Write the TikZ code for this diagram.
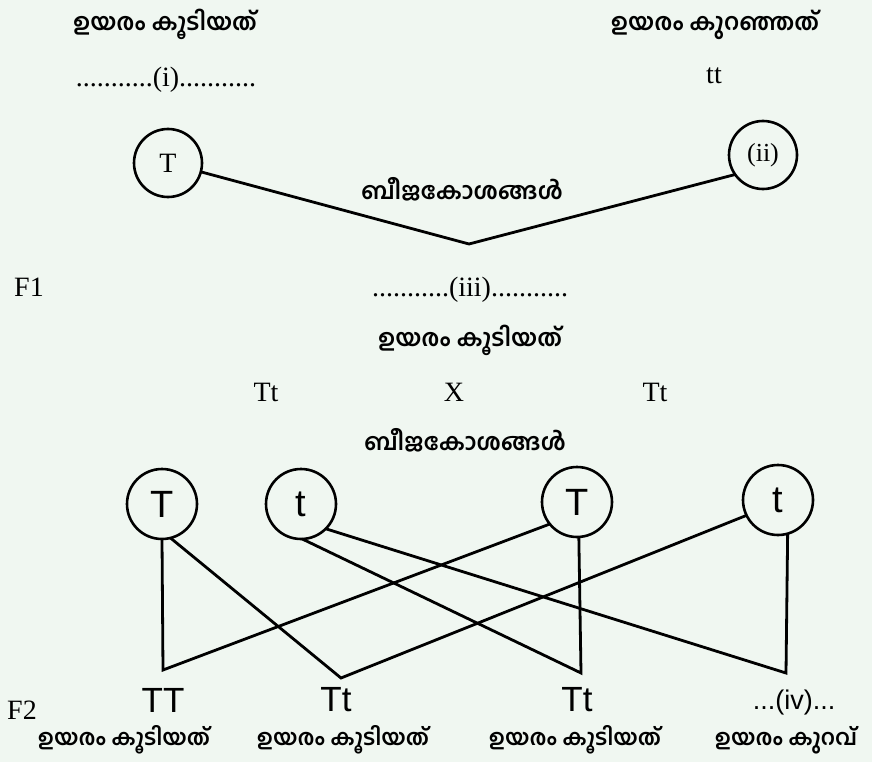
\documentclass[tikz,border=0pt]{standalone}
\usepackage{fontspec}
\setmainfont{Liberation Serif}
\newfontfamily\arial{Liberation Sans}
\newfontfamily\mal[Script=Malayalam]{Hind Kochi}
\definecolor{paper}{RGB}{240,247,241}
\begin{document}
\begin{tikzpicture}[x=1pt,y=-1pt,
  every node/.style={inner sep=0pt,outer sep=0pt},
  ml/.style={font=\mal\bfseries\fontsize{23.5}{26}\selectfont},
  mlb/.style={font=\mal\bfseries\fontsize{22}{24}\selectfont},
  rm/.style={font=\fontsize{28}{30}\selectfont},
  sans/.style={font=\arial\fontsize{35}{38}\selectfont},
  gamete/.style={draw,line width=2.6pt,circle,minimum size=68pt},
  bigamete/.style={draw,line width=2.6pt,circle,minimum size=70pt,font=\arial\fontsize{38}{40}\selectfont},
  link/.style={line width=2.8pt,line join=miter}]
\fill[paper] (0,0) rectangle (872,762);
\useasboundingbox (0,0) rectangle (872,762);

% parent generation
\node[ml] (tall1) at (165,24) {ഉയരം കൂടിയത്};
\node[ml] (short1) at (715,25) {ഉയരം കുറഞ്ഞത്};
\node[rm] (gi) at (166,80) {...........(i)...........};
\node[rm] (gtt) at (714,76) {tt};
\node[gamete,rm] (gT) at (168,163) {T};
\node[gamete,font=\fontsize{26}{28}\selectfont] (gii) at (763,155) {(ii)};
\node[ml] (gam1) at (462,189) {ബീജകോശങ്ങൾ};
\coordinate (v) at (469,244);
\draw[link] (gT) -- (v) -- (gii.215);

% F1 generation
\node[rm] (f1) at (29,287) {F1};
\node[rm] (giii) at (470,290) {...........(iii)...........};
\node[ml] (tall2) at (470,340) {ഉയരം കൂടിയത്};
\node[rm] (p1) at (266,392) {Tt};
\node[rm] (cross) at (454,392) {X};
\node[rm] (p2) at (655,392) {Tt};
\node[ml] (gam2) at (465,440) {ബീജകോശങ്ങൾ};

% gametes of the F1 cross
\node[bigamete] (a1) at (162,504) {T};
\node[bigamete] (a2) at (301,504) {t};
\node[bigamete] (b1) at (577,502) {T};
\node[bigamete] (b2) at (778,500) {t};

\coordinate (k1) at (163,670);
\coordinate (k2) at (341,678);
\coordinate (k3) at (581,673);
\coordinate (k4) at (786,673);

\draw[link] (a1.south) -- (k1) -- (b1.219);
\draw[link] (a1.284) -- (k2) -- (b2.206);
\draw[link] (a2.272) -- (k3) -- (b1.273);
\draw[link] (a2.315) -- (k4) -- (b2.286);

% F2 generation
\node[rm] (f2) at (22,710) {F2};
\node[sans] (o1) at (163,700) {TT};
\node[sans] (o2) at (336,700) {Tt};
\node[sans] (o3) at (577,700) {Tt};
\node[font=\arial\fontsize{27}{29}\selectfont] (o4) at (794,703) {...(iv)...};
\node[mlb] (l1) at (124,740) {ഉയരം കൂടിയത്};
\node[mlb] (l2) at (343,740) {ഉയരം കൂടിയത്};
\node[mlb] (l3) at (575,740) {ഉയരം കൂടിയത്};
\node[mlb] (l4) at (786,740) {ഉയരം കുറവ്};
\end{tikzpicture}
\end{document}
